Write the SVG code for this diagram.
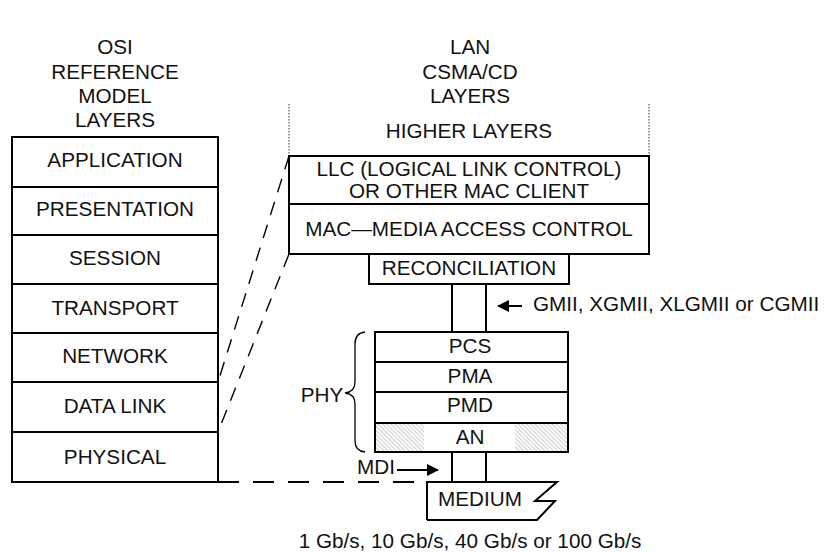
<svg xmlns="http://www.w3.org/2000/svg" width="830" height="552" viewBox="0 0 830 552">
<style>
text{font-family:"Liberation Sans",Arial,sans-serif;font-size:20.7px;fill:#111;text-anchor:middle}
.box{fill:#fff;stroke:#000;stroke-width:2}
.ln{fill:none;stroke:#000;stroke-width:2}
.dash{fill:none;stroke:#000;stroke-width:1.4;stroke-dasharray:14 10}
.hdash{fill:none;stroke:#000;stroke-width:2;stroke-dasharray:21 14}
.dot{fill:none;stroke:#555;stroke-width:1.2;stroke-dasharray:1.5 1.5}
.l{text-anchor:start}
</style>
<defs>
<pattern id="hatch" patternUnits="userSpaceOnUse" width="3" height="3" patternTransform="rotate(-45)">
<rect width="3" height="3" fill="#fff"/>
<line x1="0" y1="0" x2="0" y2="3" stroke="#999" stroke-width="1"/>
</pattern>
<marker id="ah" markerWidth="12" markerHeight="12" refX="11" refY="6" orient="auto" markerUnits="userSpaceOnUse">
<path d="M0,0 L12,6 L0,12 Z" fill="#000"/>
</marker>
</defs>
<rect width="830" height="552" fill="#fff"/>

<g id="titles">
<text x="115" y="54">OSI</text>
<text x="115" y="79">REFERENCE</text>
<text x="115" y="103">MODEL</text>
<text x="115" y="127">LAYERS</text>
<text x="470" y="54">LAN</text>
<text x="470" y="79">CSMA/CD</text>
<text x="470" y="103">LAYERS</text>
</g>

<g id="osi">
<rect class="box" x="12" y="137" width="206" height="345"/>
<path class="ln" d="M12,187H218M12,235H218M12,284H218M12,333H218M12,382H218M12,432H218"/>
<text x="115" y="167">APPLICATION</text>
<text x="115" y="216">PRESENTATION</text>
<text x="115" y="265">SESSION</text>
<text x="115" y="315">TRANSPORT</text>
<text x="115" y="363">NETWORK</text>
<text x="115" y="413">DATA LINK</text>
<text x="115" y="464">PHYSICAL</text>
</g>

<g id="higher">
<path class="dot" d="M289,104V156M649,104V156"/>
<text x="469" y="138">HIGHER LAYERS</text>
</g>

<g id="llc">
<rect class="box" x="289" y="156" width="360" height="48"/>
<text x="469" y="176">LLC (LOGICAL LINK CONTROL)</text>
<text x="469" y="197.5">OR OTHER MAC CLIENT</text>
</g>

<g id="mac">
<rect class="box" x="289" y="204" width="360" height="50"/>
<text x="469" y="236">MAC—MEDIA ACCESS CONTROL</text>
</g>

<g id="reconciliation">
<rect class="box" x="369" y="254" width="200" height="30"/>
<text x="469" y="275">RECONCILIATION</text>
</g>

<g id="phy">
<rect x="375" y="423" width="193" height="29" fill="url(#hatch)"/>
<rect x="424" y="423" width="91" height="29" fill="#fff"/>
<rect class="ln" x="375" y="332" width="193" height="120"/>
<path class="ln" d="M375,362H568M375,392H568M375,423H568"/>
<text x="470" y="353">PCS</text>
<text x="470" y="383">PMA</text>
<text x="470" y="412">PMD</text>
<text x="470" y="444">AN</text>
<path d="M365,332 Q355,333 355,344 V382 Q355,392 345,393 Q355,394 355,404 V441 Q355,451 365,452" fill="none" stroke="#000" stroke-width="1.3"/>
<text x="322" y="402">PHY</text>
</g>

<g id="medium">
<path class="ln" d="M427,520V482H557L535,501H555L537,520H427"/>
<text x="480" y="506">MEDIUM</text>
</g>

<g id="connectors">
<path class="ln" d="M452,284V332M486,284V332"/>
<path class="ln" d="M452,452V482M486,452V482"/>
<path class="dash" d="M289,156L218,382"/>
<path class="dash" d="M289,254L218,432"/>
<path class="hdash" d="M218,482H427"/>
<line x1="522" y1="306" x2="498" y2="306" stroke="#000" stroke-width="2" marker-end="url(#ah)"/>
<line x1="397" y1="470" x2="438" y2="470" stroke="#000" stroke-width="2" marker-end="url(#ah)"/>
</g>

<g id="labels">
<text class="l" x="533" y="311">GMII, XGMII, XLGMII or CGMII</text>
<text class="l" x="357" y="474">MDI</text>
<text x="470" y="548">1 Gb/s, 10 Gb/s, 40 Gb/s or 100 Gb/s</text>
</g>
</svg>
